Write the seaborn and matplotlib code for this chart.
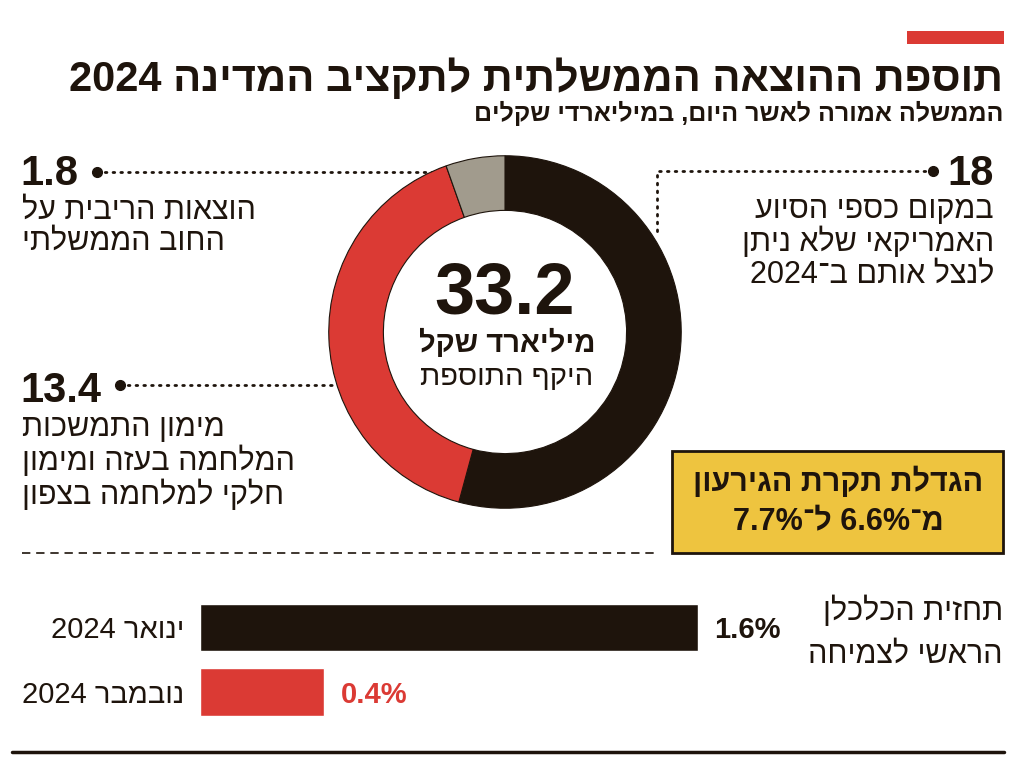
import re
import matplotlib
matplotlib.use("Agg")
import matplotlib.pyplot as plt
import seaborn as sns

# donut: extra spending, billion NIS
seg_names = ["U.S. aid", "War financing", "Interest"]
seg_values = [18, 13.4, 1.8]
seg_colors = ["#1e140c", "#db3a34", "#a19b8d"]
total = 33.2

# growth forecast bars
bar_cats = ["ינואר 2024", "נובמבר 2024"]
bar_values = [1.6, 0.4]
bar_colors = ["#1e140c", "#db3a34"]

DARK = "#1e140c"
RED = "#db3a34"


def heb(s):
    """matplotlib has no bidi: flip to visual order, keep numbers LTR."""
    r = s[::-1]
    return re.sub(r"%?\d[\d.]*", lambda m: m.group(0)[::-1], r)


sns.set_style("white")
plt.rcParams["font.family"] = ["Liberation Sans", "DejaVu Sans"]

W, H = 1024, 762
fig = plt.figure(figsize=(W / 100, H / 100), dpi=100)
fig.patch.set_facecolor("white")

bg = fig.add_axes([0, 0, 1, 1])
bg.set_xlim(0, W); bg.set_ylim(H, 0); bg.axis("off")


def px_axes(x0, y0, x1, y1):
    a = fig.add_axes([x0 / W, 1 - y1 / H, (x1 - x0) / W, (y1 - y0) / H])
    a.set_facecolor("none")
    return a


def txt(x, y, lines, size, ha="left", bold=False, color=DARK, ls=1.2):
    # y = baseline of the last line
    if isinstance(lines, str):
        lines = [lines]
    bg.text(x, y, "\n".join(heb(s) for s in lines), fontsize=size, ha=ha,
            multialignment=ha, va="baseline", color=color, linespacing=ls,
            fontweight="bold" if bold else "normal", zorder=10)


# header
bg.add_patch(plt.Rectangle((907, 31), 97, 13, color=RED, lw=0))
txt(1003, 91, "תוספת ההוצאה הממשלתית לתקציב המדינה 2024", 30, ha="right", bold=True)
txt(1003, 121, "הממשלה אמורה לאשר היום, במיליארדי שקלים", 18, ha="right", bold=True)

# donut
ax = px_axes(327, 154, 683, 510)
ax.pie(seg_values, colors=seg_colors, startangle=90, counterclock=False, radius=1,
       wedgeprops=dict(width=0.31, edgecolor=DARK, linewidth=0.8))
ax.set_xlim(-1.01, 1.01); ax.set_ylim(-1.01, 1.01); ax.set_aspect("equal")

txt(505, 313, f"{total}", 52, ha="center", bold=True)
txt(507, 352, "מיליארד שקל", 21, ha="center", bold=True)
txt(507, 385, "היקף התוספת", 21, ha="center")

# callouts
dot = dict(ls=(0, (0.6, 2.2)), lw=2, color=DARK, dash_capstyle="round", zorder=5)
bg.plot([933, 657, 657], [171, 171, 233], **dot)
bg.plot([933], [171], "o", ms=7, color=DARK, zorder=6)
bg.plot([97, 491], [172, 172], **dot)
bg.plot([97], [172], "o", ms=7, color=DARK, zorder=6)
bg.plot([120, 367], [385, 385], **dot)
bg.plot([120], [385], "o", ms=7, color=DARK, zorder=6)

txt(994, 185, f"{seg_values[0]}", 30, ha="right", bold=True)
txt(994, 283, ["במקום כספי הסיוע", "האמריקאי שלא ניתן", "לנצל אותם ב־2024"], 22,
    ha="right", ls=1.07)

txt(20, 185, f"{seg_values[2]}", 30, bold=True)
txt(22, 250, ["הוצאות הריבית על", "החוב הממשלתי"], 22, ls=1.05)

txt(20, 402, f"{seg_values[1]}", 30, bold=True)
txt(22, 504, ["מימון התמשכות", "המלחמה בעזה ומימון", "חלקי למלחמה בצפון"], 22, ls=1.1)

# deficit box
bg.add_patch(plt.Rectangle((672, 451), 331, 102, facecolor="#eec43f", edgecolor=DARK, lw=2))
txt(838, 530, ["הגדלת תקרת הגירעון", "מ־6.6% ל־7.7%"], 22, ha="center", bold=True, ls=1.38)

bg.plot([22, 655], [553, 553], color=DARK, lw=1.2, ls=(0, (5, 3.5)))

# growth forecast bars
bx = px_axes(200, 595.25, 822, 724.25)
sns.barplot(x=bar_values, y=[heb(c) for c in bar_cats], hue=[heb(c) for c in bar_cats],
            palette=bar_colors, width=0.73, saturation=1, legend=False, ax=bx)
bx.set_xlim(0, 2.0)
sns.despine(ax=bx, left=True, bottom=True)
bx.set_xticks([])
bx.tick_params(axis="y", length=0, pad=11, labelsize=21, labelcolor=DARK)
bx.set_xlabel(""); bx.set_ylabel("")
for i, (v, c) in enumerate(zip(bar_values, bar_colors)):
    bx.annotate(f"{v}%", xy=(v, i), xytext=(12, -2), textcoords="offset points",
                va="center", ha="left", fontsize=21, fontweight="bold", color=c)

txt(1003, 663, ["תחזית הכלכלן", "הראשי לצמיחה"], 22, ha="right", ls=1.55)

bg.plot([12, 1004], [752, 752], color=DARK, lw=2.5)

fig.savefig("out.png", dpi=100, facecolor="white")
